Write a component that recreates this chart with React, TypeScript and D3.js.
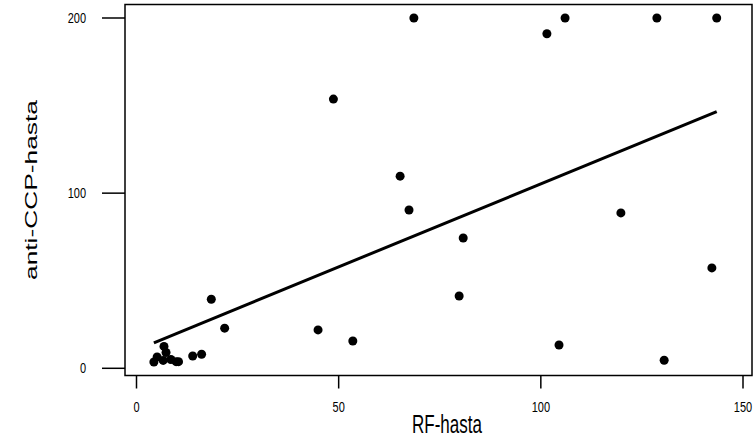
import React from "react";
import * as d3 from "d3";

// RF-hasta vs anti-CCP-hasta observations
const rfValues: number[] = [
  4.3, 5.1, 6.8, 6.6, 7.3, 8.5, 9.8, 10.4, 13.9, 16.1, 18.5, 21.8,
  44.9, 48.7, 53.5, 65.2, 67.4, 68.6, 79.8, 80.8, 101.5, 106, 104.5,
  119.8, 128.7, 130.5, 142.3, 143.5,
];
const ccpValues: number[] = [
  3.6, 6.5, 12.5, 4.5, 9.0, 5.0, 3.8, 3.8, 7.0, 8.0, 39.4, 22.9,
  21.9, 153.7, 15.6, 109.7, 90.4, 200, 41.3, 74.4, 191, 200, 13.3,
  88.7, 200, 4.6, 57.3, 200,
];

// linear fit (intercept, slope) of anti-CCP-hasta on RF-hasta
const fitCoef: number[] = [10.5, 0.948];

const xTicks: number[] = [0, 50, 100, 150];
const yTicks: number[] = [0, 100, 200];

const W = 755;
const H = 447;
const frame = { left: 125, right: 752, top: 4.5, bottom: 375.5 };

export default function App() {
  const x = d3.scaleLinear().domain([0, 150]).range([136.5, 743]);
  const y = d3.scaleLinear().domain([0, 200]).range([368.3, 18]);

  const pts = rfValues.map((v, i) => [v, ccpValues[i]] as [number, number]);
  const [xMin, xMax] = d3.extent(rfValues) as [number, number];
  const fit: [number, number][] = [xMin, xMax].map(
    (v) => [v, fitCoef[0] + fitCoef[1] * v] as [number, number]
  );
  const lineGen = d3
    .line<[number, number]>()
    .x((d) => x(d[0]))
    .y((d) => y(d[1]));

  const font = "'Liberation Sans', Arial, Helvetica, sans-serif";

  return (
    <svg
      width={W}
      height={H}
      style={{ position: "absolute", left: 0, top: 0, background: "#fff" }}
      fontFamily={font}
    >
      <rect x={0} y={0} width={W} height={H} fill="#fff" />
      {/* points */}
      {pts.map((p, i) => (
        <circle key={i} cx={x(p[0])} cy={y(p[1])} r={4.5} fill="#000" />
      ))}
      {/* fitted line */}
      <path d={lineGen(fit) || ""} stroke="#000" strokeWidth={3} fill="none" />
      {/* frame */}
      <rect
        x={frame.left}
        y={frame.top}
        width={frame.right - frame.left}
        height={frame.bottom - frame.top}
        fill="none"
        stroke="#000"
        strokeWidth={1.5}
      />
      {/* x axis */}
      {xTicks.map((t) => (
        <g key={"x" + t}>
          <line x1={x(t)} x2={x(t)} y1={frame.bottom} y2={frame.bottom + 13} stroke="#000" strokeWidth={1.5} />
          <text
            transform={`translate(${x(t)}, 412) scale(1, 1.3)`}
            textAnchor="middle"
            fontSize={11}
            fill="#000"
          >
            {t}
          </text>
        </g>
      ))}
      {/* y axis */}
      {yTicks.map((t) => (
        <g key={"y" + t}>
          <line x1={frame.left - 23} x2={frame.left} y1={y(t)} y2={y(t)} stroke="#000" strokeWidth={1.5} />
          <text
            transform={`translate(86, ${y(t) + 5}) scale(1, 1.3)`}
            textAnchor="end"
            fontSize={11}
            fill="#000"
          >
            {t}
          </text>
        </g>
      ))}
      <text
        transform={`translate(447, 433) scale(1, 1.5)`}
        textAnchor="middle"
        fontSize={17}
        fill="#000"
      >
        RF-hasta
      </text>
      <text
        transform={`translate(37, 190) scale(1, 1.55) rotate(-90)`}
        textAnchor="middle"
        fontSize={17}
        fill="#000"
      >
        anti-CCP-hasta
      </text>
    </svg>
  );
}
